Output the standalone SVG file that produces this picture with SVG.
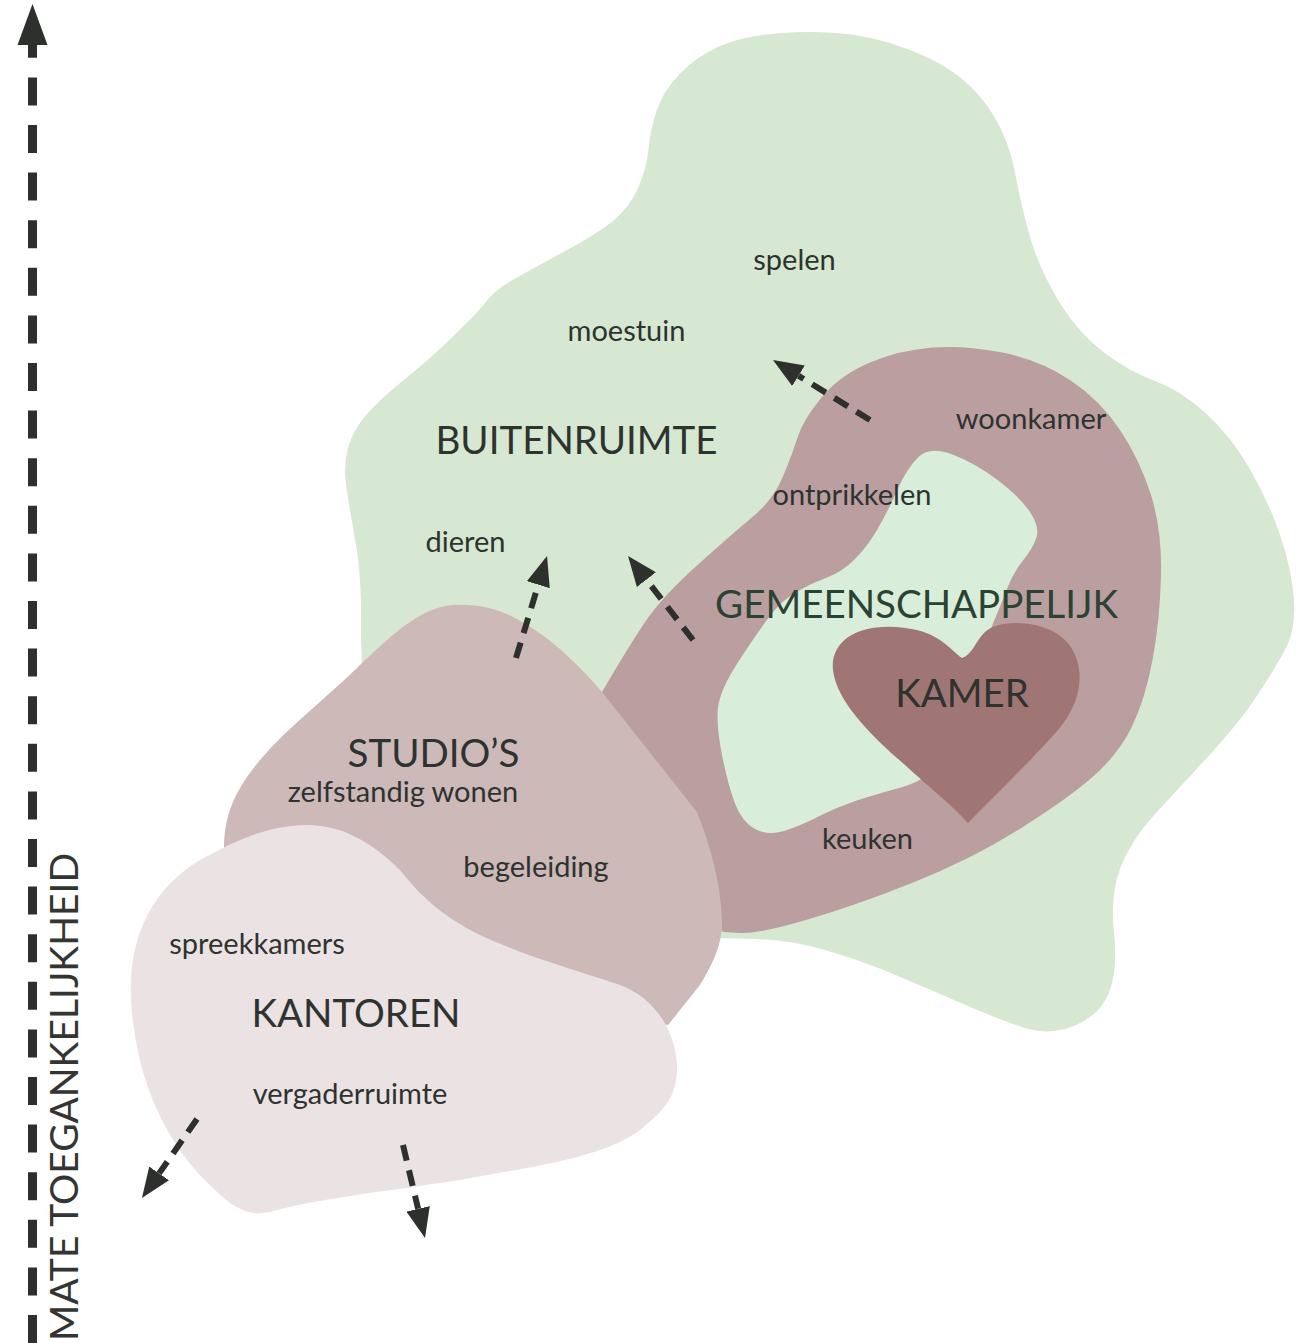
<svg xmlns="http://www.w3.org/2000/svg" width="1304" height="1343" viewBox="0 0 1304 1343">
<style>
  .lbl { font-family: Lato, "Liberation Sans", sans-serif; font-size: 29px; fill: #2e3330; text-anchor: middle; }
  .big { font-family: Lato, "Liberation Sans", sans-serif; font-size: 38.5px; fill: #2e3330; text-anchor: middle; }
  .green-t { fill: #2b4332; }
  .dash { fill: none; stroke: #2d302d; stroke-width: 6; stroke-dasharray: 16 10; }
</style>
<defs>
  <marker id="head" viewBox="0 0 30 24" refX="0" refY="12" markerWidth="30" markerHeight="24" markerUnits="userSpaceOnUse" orient="auto">
    <path d="M0,0 L30,12 L0,24 Z" fill="#2d302d"/>
  </marker>
</defs>
<rect width="1304" height="1343" fill="#ffffff"/>

<g id="buitenruimte">
  <path fill="#d6e8d1" d="M 781.5,33 Q 820,30 855,35 Q 890,40 927.5,57.5 Q 965,75 986.5,105 Q 1008,135 1015,172.5 Q 1022,210 1031,240 Q 1040,270 1059,301.5 Q 1078,333 1104,352.5 Q 1130,372 1155,381 Q 1180,390 1205,412.5 Q 1230,435 1249,467.5 Q 1268,500 1280,535 Q 1292,570 1294,600 Q 1296,630 1285,650 Q 1274,670 1256.5,696.5 Q 1239,723 1209.5,755 Q 1180,787 1155.5,813.5 Q 1131,840 1120.5,867.5 Q 1110,895 1114,932.5 Q 1118,970 1109,992.5 Q 1100,1015 1075,1025.5 Q 1050,1036 1025,1028 Q 1000,1020 965.5,1005 Q 931,990 895.5,975 Q 860,960 825,950 Q 790,940 754.5,939 L 719,938 L 640,880 L 450,700 L 362,668 L 361,640 Q 362,578 356,544.5 Q 350,511 346.5,488.5 Q 343,466 348,448 Q 353,430 366.5,414.5 Q 380,399 405,379 Q 430,359 455,334.5 Q 480,310 487.5,300 Q 495,290 512.5,280 Q 530,270 563.5,252 Q 597,234 613.5,220.5 Q 630,207 638.5,187 Q 647,167 648.5,149 Q 650,131 656.5,111 Q 663,91 680,73.5 Q 697,56 720,46 Q 743,36 781.5,33 Z"/>
  <text class="lbl" x="794.5" y="270">spelen</text>
  <text class="lbl" x="626.5" y="341">moestuin</text>
  <text class="big" x="576.5" y="454">BUITENRUIMTE</text>
  <text class="lbl" x="465.5" y="552">dieren</text>
</g>

<g id="gemeenschappelijk">
  <path fill="#bb9e9f" d="M 590,760 L 602,692 Q 630,644 646.5,620 Q 663,596 697.5,565 Q 732,534 752.5,517 Q 773,500 782.5,477.5 Q 792,455 797.5,437.5 Q 803,420 821.5,397.5 Q 840,375 870,362.5 Q 900,350 932.5,347.5 Q 965,345 1002.5,352.5 Q 1040,360 1070,380 Q 1100,400 1120,430 Q 1140,460 1151,495 Q 1162,530 1161,575 Q 1160,620 1152.5,660 Q 1145,700 1131.5,727.5 Q 1118,755 1092,777.5 Q 1066,800 1018,830 Q 970,860 912,883 Q 854,906 806,920 Q 758,934 740.5,933 L 723,932 L 650,860 Z"/>
  <path fill="#d9eddb" d="M 952.5,454.5 Q 975,463 997.5,480 Q 1020,497 1030,512 Q 1040,527 1036.5,537.5 Q 1033,548 1023,560.5 Q 1013,573 1006.5,590 Q 1000,607 994,621 Q 988,635 981.5,662.5 Q 975,690 955,727.5 Q 935,765 928,773.5 Q 921,782 895.5,789 Q 870,796 852.5,802 Q 835,808 817.5,817 Q 800,826 784,831 Q 768,836 755,829 Q 742,822 735,803.5 Q 728,785 722,755 Q 716,725 718,707.5 Q 720,690 738.5,661.5 Q 757,633 769.5,616.5 Q 782,600 797,591.5 Q 812,583 827,577.5 Q 842,572 854.5,559.5 Q 867,547 877,530 Q 887,513 897,490.5 Q 907,468 918.5,457 Q 930,446 952.5,454.5 Z"/>
  <text class="lbl" x="1031" y="429">woonkamer</text>
  <text class="lbl" x="852" y="505">ontprikkelen</text>
  <text class="big green-t" x="916.5" y="618">GEMEENSCHAPPELIJK</text>
  <text class="lbl" x="867.5" y="849">keuken</text>
</g>

<g id="kamer">
  <path fill="#a07675" d="M 962,658 C 950,650 940,632 905,628 C 860,622 830,640 833,670 C 836,700 870,735 905,765 C 930,788 955,808 968,823 C 1000,790 1040,752 1062,725 C 1085,695 1085,660 1065,640 C 1045,620 1000,618 985,632 C 975,642 972,655 962,658 Z"/>
  <text class="big" x="962" y="707">KAMER</text>
</g>

<g id="studios">
  <path fill="#cdb9b8" d="M 453,605 C 490,603 515,615 545,637 C 565,652 585,672 602,692 L 697,812 C 712,850 722,890 722,924 C 722,945 712,965 700,985 L 668,1025 L 500,1000 L 250,900 L 224,848 C 224,815 235,790 260,760 C 290,725 330,695 360,665 C 390,637 420,607 453,605 Z"/>
  <text class="big" x="433.5" y="767">STUDIO’S</text>
  <text class="lbl" x="403" y="802">zelfstandig wonen</text>
  <text class="lbl" x="536" y="877">begeleiding</text>
</g>

<g id="kantoren">
  <path fill="#ebe2e3" d="M 131,1000 C 128,940 150,890 200,860 C 240,838 270,825 310,825 C 345,826 375,845 400,870 C 420,895 440,915 480,935 C 530,958 570,968 620,985 C 655,998 675,1030 677,1065 C 678,1095 665,1110 640,1130 C 600,1160 520,1168 460,1180 C 380,1192 310,1200 270,1212 C 250,1216 235,1210 215,1190 C 160,1140 135,1070 131,1000 Z"/>
  <text class="lbl" x="257" y="954">spreekkamers</text>
  <text class="big" x="356" y="1027">KANTOREN</text>
  <text class="lbl" x="350" y="1104">vergaderruimte</text>
</g>

<g id="axis">
  <path d="M 32.5,1343 L 32.5,57" fill="none" stroke="#2d302d" stroke-width="9" stroke-dasharray="28 19.6"/>
  <rect x="28" y="44" width="9" height="13" fill="#2d302d"/>
  <path d="M 32.5,4 L 47.5,45 L 17.5,45 Z" fill="#2d302d"/>
  <text transform="translate(78,1341) rotate(-90)" style="font-family: Lato, 'Liberation Sans', sans-serif; font-size: 39px; fill: #333533;">MATE TOEGANKELIJKHEID</text>
</g>

<g id="connectors">
  <path class="dash" d="M 870,420 L 798.5,375.8" marker-end="url(#head)"/>
  <path class="dash" d="M 516,658 L 538.3,584.7" marker-end="url(#head)"/>
  <path class="dash" d="M 693,640 L 646.4,579.7" marker-end="url(#head)"/>
  <path class="dash" d="M 197,1119 L 159.1,1173.4" marker-end="url(#head)"/>
  <path class="dash" d="M 403,1145 L 418.1,1208.8" marker-end="url(#head)"/>
</g>
</svg>
